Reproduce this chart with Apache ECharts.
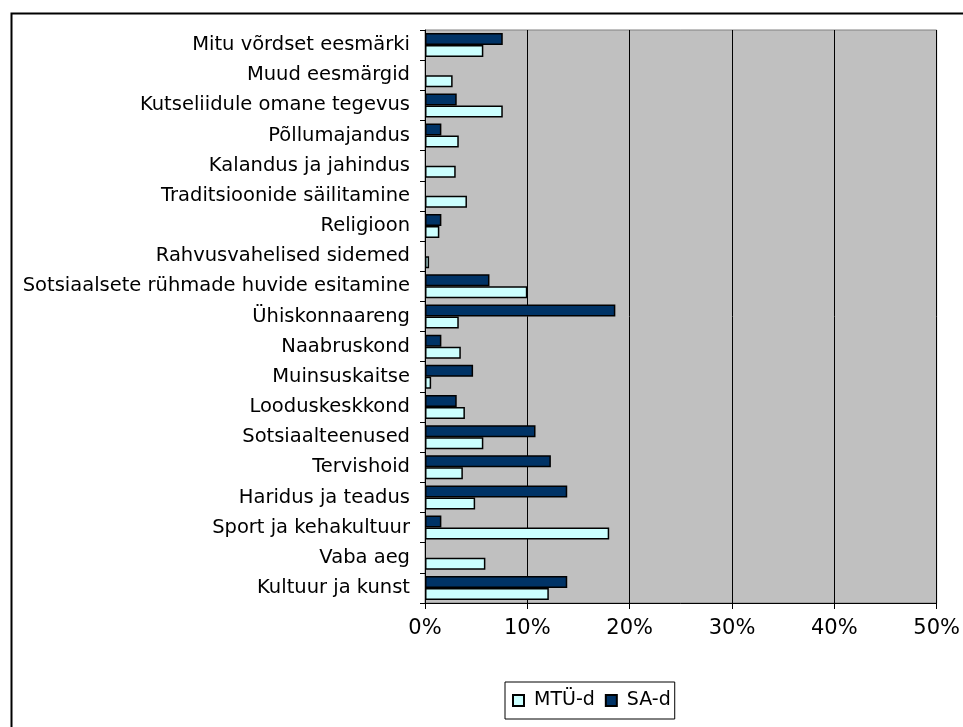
<!DOCTYPE html>
<html>
<head>
<meta charset="utf-8">
<script src="https://cdn.jsdelivr.net/npm/echarts@6/dist/echarts.min.js"></script>
<style>
html,body{margin:0;padding:0;background:#fff;}
#chart{width:963px;height:727px;}
</style>
</head>
<body>
<div id="chart"></div>
<script>
// Categories listed top to bottom
const categories = [
  'Mitu võrdset eesmärki',
  'Muud eesmärgid',
  'Kutseliidule omane tegevus',
  'Põllumajandus',
  'Kalandus ja jahindus',
  'Traditsioonide säilitamine',
  'Religioon',
  'Rahvusvahelised sidemed',
  'Sotsiaalsete rühmade huvide esitamine',
  'Ühiskonnaareng',
  'Naabruskond',
  'Muinsuskaitse',
  'Looduskeskkond',
  'Sotsiaalteenused',
  'Tervishoid',
  'Haridus ja teadus',
  'Sport ja kehakultuur',
  'Vaba aeg',
  'Kultuur ja kunst'
];
// percent values, same order
const mtuValues = [5.7, 2.7, 7.6, 3.3, 3.0, 4.1, 1.4, 0.4, 10.0, 3.3, 3.5, 0.6, 3.9, 5.7, 3.7, 4.9, 18.0, 5.9, 12.1];
const saValues  = [7.6, null, 3.1, 1.6, null, null, 1.6, null, 6.3, 18.6, 1.6, 4.7, 3.1, 10.8, 12.3, 13.9, 1.6, null, 13.9];
const xTicks = [0, 10, 20, 30, 40, 50];
const seriesNames = ['MTÜ-d', 'SA-d'];

const font = '"DejaVu Sans", "Liberation Sans", Arial, sans-serif';
const chart = echarts.init(document.getElementById('chart'), null, {renderer: 'canvas'});
chart.setOption({
  animation: false,
  backgroundColor: '#ffffff',
  textStyle: {fontFamily: font, color: '#000'},
  graphic: [{
    type: 'rect', left: 9, top: 11, shape: {x: 0, y: 0, width: 1000, height: 1000},
    style: {fill: 'none', stroke: '#000', lineWidth: 2}, silent: true, z: -1
  }],
  grid: {
    left: 425, right: 24, top: 30, bottom: 124,
    show: true, backgroundColor: '#C0C0C0', borderColor: '#808080', borderWidth: 1
  },
  legend: {
    data: seriesNames,
    left: 505, top: 682,
    padding: [9, 4, 9, 7],
    borderColor: '#000', borderWidth: 1,
    itemWidth: 11, itemHeight: 11, itemGap: 10,
    icon: 'rect',
    textStyle: {fontFamily: font, fontSize: 19, color: '#000', padding: [0, 0, 0, 5]}
  },
  xAxis: {
    type: 'value', min: 0, max: 50, interval: 10,
    axisLine: {show: true, lineStyle: {color: '#000', width: 1}},
    axisTick: {show: true, length: 6, lineStyle: {color: '#000'}},
    axisLabel: {formatter: v => xTicks.includes(v) ? v + '%' : '', fontSize: 21, margin: 15, color: '#000', fontFamily: font},
    splitLine: {show: true, lineStyle: {color: '#000', width: 1}}
  },
  yAxis: {
    type: 'category', data: categories, inverse: true,
    axisLine: {show: true, lineStyle: {color: '#000'}},
    axisTick: {show: true, length: 5, lineStyle: {color: '#000'}},
    axisLabel: {fontSize: 19.5, margin: 15, color: '#000', fontFamily: font}
  },
  series: [
    {
      name: 'SA-d', type: 'bar', data: saValues,
      barWidth: 12, barGap: '0%',
      itemStyle: {color: '#003366', borderColor: '#000', borderWidth: 1.5}
    },
    {
      name: 'MTÜ-d', type: 'bar', data: mtuValues,
      barWidth: 12, barGap: '0%',
      itemStyle: {color: '#CCFFFF', borderColor: '#000', borderWidth: 1.5}
    }
  ]
});
</script>
</body>
</html>
